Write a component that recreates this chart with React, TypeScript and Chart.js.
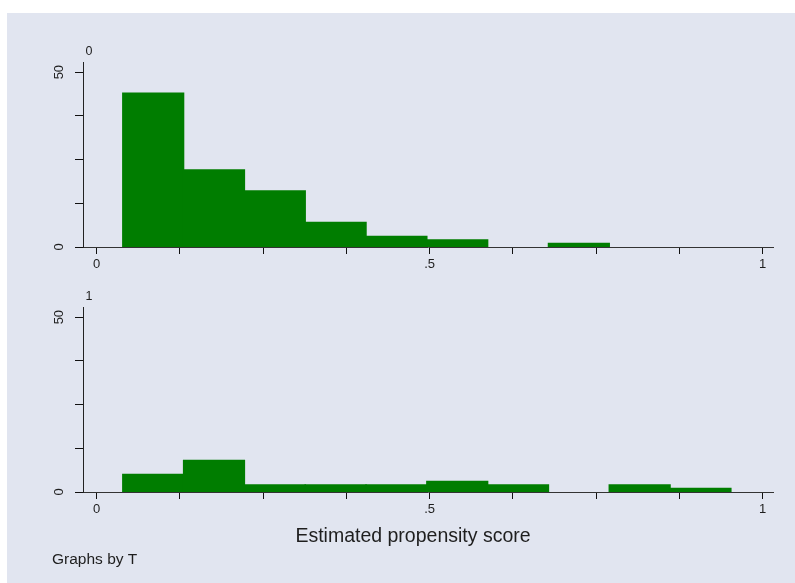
import React, { useEffect, useRef } from "react";
import { Chart, registerables } from "chart.js";

Chart.register(...registerables);

// ---- data ----
const binCenters = [0.0849, 0.1762, 0.2675, 0.3588, 0.4501, 0.5414, 0.6327, 0.724, 0.8153, 0.9066];
const countsT0 = [44, 22, 16, 7, 3, 2, 0, 1, 0, 0];
const countsT1 = [5, 9, 2, 2, 2, 3, 2, 0, 2, 1];
const panelLabels = ["0", "1"];
const xTickValues = [0, 0.125, 0.25, 0.375, 0.5, 0.625, 0.75, 0.875, 1];
const xTickLabels = ["0", "", "", "", ".5", "", "", "", "1"];
const yTickValues = [0, 12.5, 25, 37.5, 50];
const yTickLabels = ["0", "", "", "", "50"];
const xTitle = "Estimated propensity score";
const noteText = "Graphs by T";

const W = 795;
const H = 583;
const FONT = "'Liberation Sans', Arial, Helvetica, sans-serif";
const BG = "rgb(225,229,240)";
const GREEN = "rgb(0,125,0)";
const TEXT = "#1e1e1e";

const panelLabelPlugin = {
  id: "panelLabel",
  afterDraw(chart: any, _args: any, opts: any) {
    const { ctx, chartArea } = chart;
    ctx.save();
    ctx.font = `12.5px ${FONT}`;
    ctx.fillStyle = TEXT;
    ctx.textAlign = "center";
    ctx.textBaseline = "middle";
    ctx.fillText(opts.text, chartArea.left + 6, chartArea.top - 10);
    if (opts.footer) {
      ctx.textBaseline = "alphabetic";
      ctx.font = `19.5px ${FONT}`;
      ctx.fillText(xTitle, 413, 542);
      ctx.textAlign = "left";
      ctx.font = `15.5px ${FONT}`;
      ctx.fillText(noteText, 52, 564);
    }
    ctx.restore();
  },
};

function Panel(props: { counts: number[]; label: string; top: number; bottom: number; footer: boolean }) {
  const ref = useRef<HTMLCanvasElement>(null);
  useEffect(() => {
    const { counts, label, top, bottom, footer } = props;
    const chart = new Chart(ref.current as HTMLCanvasElement, {
      type: "bar",
      data: {
        datasets: [
          {
            data: binCenters.map((x, i) => ({ x, y: counts[i] === 0 ? null : counts[i] })) as any,
            backgroundColor: GREEN,
            borderWidth: 0,
            inflateAmount: 0.7,
            barPercentage: 1,
            categoryPercentage: 1,
          },
        ],
      },
      options: {
        responsive: false,
        animation: false,
        events: [],
        layout: { padding: { top, left: 0, right: 22, bottom: H - bottom - 30 } },
        plugins: {
          legend: { display: false },
          tooltip: { enabled: false },
          panelLabel: { text: label, footer },
        } as any,
        scales: {
          x: {
            type: "linear",
            min: -0.0205,
            max: 1.0155,
            offset: false,
            z: 1,
            grid: { offset: false, drawOnChartArea: false, drawTicks: true, tickLength: 7, color: "#111", lineWidth: 1 },
            border: { display: true, color: "#333", width: 1 },
            afterBuildTicks: (s: any) => {
              s.ticks = xTickValues.map((v) => ({ value: v }));
            },
            afterFit: (s: any) => {
              s.height = 30;
            },
            ticks: {
              autoSkip: false,
              maxRotation: 0,
              minRotation: 0,
              padding: 3,
              color: TEXT,
              font: { family: FONT, size: 13 },
              callback: (_v: any, i: number) => xTickLabels[i],
            },
          },
          y: {
            type: "linear",
            min: 0,
            max: 52.9,
            z: 1,
            grid: { drawOnChartArea: false, drawTicks: true, tickLength: 8, color: "#111", lineWidth: 1 },
            border: { display: true, color: "#222", width: 1 },
            afterBuildTicks: (s: any) => {
              s.ticks = yTickValues.map((v) => ({ value: v }));
            },
            afterFit: (s: any) => {
              s.width = 83;
            },
            ticks: {
              autoSkip: false,
              minRotation: 90,
              maxRotation: 90,
              crossAlign: "center",
              padding: 8.8,
              color: TEXT,
              font: { family: FONT, size: 13 },
              callback: (_v: any, i: number) => yTickLabels[i],
            },
          },
        },
      } as any,
      plugins: [panelLabelPlugin],
    });
    return () => chart.destroy();
  }, []);
  return (
    <canvas
      ref={ref}
      width={W}
      height={H}
      style={{ position: "absolute", left: 0, top: 0, width: W, height: H }}
    />
  );
}

export default function App() {
  return (
    <div
      style={{
        position: "fixed",
        left: 0,
        top: 0,
        width: W,
        height: H,
        background: "#fff",
        overflow: "hidden",
      }}
    >
      <div style={{ position: "absolute", left: 7, top: 13, width: W - 7, height: H - 13, background: BG }} />
      <Panel counts={countsT0} label={panelLabels[0]} top={62} bottom={247} footer={false} />
      <Panel counts={countsT1} label={panelLabels[1]} top={307} bottom={492} footer={true} />
    </div>
  );
}
